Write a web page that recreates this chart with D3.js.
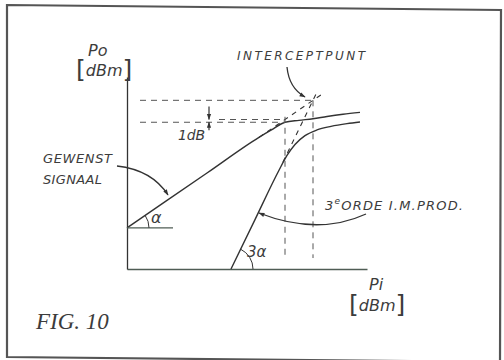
<!DOCTYPE html>
<html><head><meta charset="utf-8">
<script src="https://cdn.jsdelivr.net/npm/d3@7"></script>
<style>
html,body{margin:0;padding:0;background:#fff;}
svg{display:block;}
text{font-family:"DejaVu Sans",sans-serif;font-style:italic;fill:#3c3c3c;}
</style></head>
<body>
<script>
// ---- data (in dBm) ----
const piDomain = [-60, 0];          // Pi axis range
const poDomain = [-70, 0];          // Po axis range
const gain = 5;                     // linear part of fundamental: Po = Pi + gain
const im3Offset = 32;               // linear part of IM3: Po = 3*Pi + im3Offset
const fundPi = [-60, -40, -27, -24, -20.5, -17, -13.5, -10, -6, -1.75];
const fundPo = [-55, -35, -22, -19.4, -16.5, -15.8, -15.2, -14.4, -13.6, -12.9];
const imPi   = [-34, -28, -22, -20, -18, -15.5, -12.5, -9, -5, -1.75];
const imPo   = [-70, -52, -34, -28.6, -24.6, -21.4, -19.3, -18, -17, -16.4];
const fundExt = [-27, -10.5];       // dashed extrapolation of fundamental
const imExt   = [-21, -12.8];       // dashed extrapolation of IM3
const p1dB = -20.5;                 // 1 dB compression input level
const guideStartPi = -56.75;        // where horizontal guides start
const guideShortPi = -37;           // start of short linear-level guide
const guideBottomPo = -66;          // where vertical guides end

const W = 504, H = 360, ink = "#333", axisInk = "#4f5d55";
const svg = d3.select("body").append("svg").attr("width", W).attr("height", H);

const x = d3.scaleLinear().domain(piDomain).range([127, 367]);
const y = d3.scaleLinear().domain(poDomain).range([269, 77]);

const defs = svg.append("defs");
defs.append("marker").attr("id", "ah").attr("viewBox", "0 0 10 10")
  .attr("refX", 9).attr("refY", 5).attr("markerWidth", 9).attr("markerHeight", 6)
  .attr("markerUnits", "userSpaceOnUse").attr("orient", "auto")
  .append("path").attr("d", "M0,1.5 L10,5 L0,8.5 Z").attr("fill", ink);

// frame (scanned, slightly skewed)
svg.append("path").attr("d", "M7,5 L501,10 L500,362 L7,357 Z")
  .attr("fill", "none").attr("stroke", "#555").attr("stroke-width", 2.2);

// axes
svg.append("g").attr("transform", `translate(0,${y(poDomain[0])})`)
  .call(d3.axisBottom(x).tickValues([]).tickSizeOuter(0))
  .select(".domain").attr("stroke", axisInk).attr("stroke-width", 1.3);
svg.append("g").attr("transform", `translate(${x(piDomain[0])},0)`)
  .call(d3.axisLeft(y).tickValues([]).tickSizeOuter(0))
  .select(".domain").attr("stroke", ink).attr("stroke-width", 1.3);

const line = d3.line().x(d => x(d[0])).y(d => y(d[1])).curve(d3.curveMonotoneX);
const dash = "6,5";

svg.append("path").attr("d", line(fundPi.map((p, i) => [p, fundPo[i]])))
  .attr("fill", "none").attr("stroke", ink).attr("stroke-width", 1.4);
svg.append("path").attr("d", line(imPi.map((p, i) => [p, imPo[i]])))
  .attr("fill", "none").attr("stroke", ink).attr("stroke-width", 1.4);

const lin = d3.line().x(d => x(d[0])).y(d => y(d[1]));
svg.append("path").attr("d", lin(fundExt.map(p => [p, p + gain])))
  .attr("fill", "none").attr("stroke", ink).attr("stroke-width", 1.1).attr("stroke-dasharray", "5,5");
svg.append("path").attr("d", lin(imExt.map(p => [p, 3 * p + im3Offset])))
  .attr("fill", "none").attr("stroke", ink).attr("stroke-width", 1.1).attr("stroke-dasharray", "5,5");

const ipPi = (gain - im3Offset) / 2, ipPo = ipPi + gain;
const cpPo = p1dB + gain - 1;
const guides = [
  [[guideStartPi, ipPo], [ipPi, ipPo]],
  [[guideStartPi, cpPo], [p1dB, cpPo]],
  [[guideShortPi, cpPo + 1], [p1dB, cpPo + 1]],
  [[p1dB, cpPo + 2], [p1dB, guideBottomPo]],
  [[ipPi, ipPo], [ipPi, guideBottomPo]]
];
guides.forEach(g => svg.append("path").attr("d", lin(g))
  .attr("fill", "none").attr("stroke", "#555").attr("stroke-width", 1).attr("stroke-dasharray", dash));

const ax = 209;
svg.append("line").attr("x1", ax).attr("x2", ax).attr("y1", y(cpPo + 1) - 13).attr("y2", y(cpPo + 1))
  .attr("stroke", ink).attr("stroke-width", 1.2).attr("marker-end", "url(#ah)");
svg.append("line").attr("x1", ax).attr("x2", ax).attr("y1", y(cpPo) + 8).attr("y2", y(cpPo))
  .attr("stroke", ink).attr("stroke-width", 1.2).attr("marker-end", "url(#ah)");

const o1 = [x(piDomain[0]), y(piDomain[0] + gain)];
svg.append("line").attr("x1", o1[0]).attr("x2", o1[0] + 46).attr("y1", o1[1]).attr("y2", o1[1])
  .attr("stroke", axisInk).attr("stroke-width", 1.1);
const a1 = Math.atan2(y(piDomain[0]) - y(piDomain[0] + 10), x(piDomain[0] + 10) - x(piDomain[0]));
const r1 = 22;
svg.append("path").attr("d", `M${o1[0] + r1},${o1[1]} A${r1},${r1} 0 0 0 ${o1[0] + r1 * Math.cos(a1)},${o1[1] - r1 * Math.sin(a1)}`)
  .attr("fill", "none").attr("stroke", ink).attr("stroke-width", 1);
const o3 = [x(imPi[0]), y(imPo[0])];
const a3 = Math.atan2(y(-60) - y(-30), x(-50) - x(-60));
svg.append("path").attr("d", `M${o3[0] + r1},${o3[1]} A${r1},${r1} 0 0 0 ${o3[0] + r1 * Math.cos(a3)},${o3[1] - r1 * Math.sin(a3)}`)
  .attr("fill", "none").attr("stroke", ink).attr("stroke-width", 1);

const arrow = d => svg.append("path").attr("d", d).attr("fill", "none")
  .attr("stroke", ink).attr("stroke-width", 1.3).attr("marker-end", "url(#ah)");
arrow("M287,67 Q289,88 305,97");
arrow("M117,166 Q152,170 168,195");
arrow("M366,214 Q318,236 259,213");

function label(t, xx, yy, size, len) {
  const el = svg.append("text").attr("x", xx).attr("y", yy).attr("font-size", size).text(t);
  if (len) el.attr("textLength", len).attr("lengthAdjust", "spacing");
  return el;
}
label("INTERCEPTPUNT", 237, 60, 12, 128);
label("GEWENST", 43, 163, 13, 69);
label("SIGNAAL", 43, 184, 13, 59);
label("1dB", 178, 140, 14, 27);
label("α", 151, 223, 16);
label("3α", 247, 257, 15);
const t3 = svg.append("text").attr("x", 325).attr("y", 210).attr("font-size", 13)
  .attr("textLength", 138).attr("lengthAdjust", "spacing");
t3.append("tspan").text("3");
t3.append("tspan").attr("dy", -6).attr("font-size", 9).text("e");
t3.append("tspan").attr("dy", 6).text("ORDE I.M.PROD.");

function unitLabel(xx, yy) {
  const t = svg.append("text").attr("x", xx).attr("y", yy);
  t.append("tspan").attr("font-size", 25).attr("font-style", "normal").text("[");
  t.append("tspan").attr("font-size", 16).attr("dy", -2).text("dBm");
  t.append("tspan").attr("font-size", 25).attr("font-style", "normal").attr("dy", 2).text("]");
}
label("Po", 88, 56, 16);
unitLabel(76, 78);
label("Pi", 369, 290, 16);
unitLabel(349, 313);

svg.append("text").attr("x", 36).attr("y", 329).attr("font-size", 23)
  .style("font-family", "'Liberation Serif',serif").style("font-style", "italic")
  .attr("fill", "#444").text("FIG. 10");
</script>
</body></html>
